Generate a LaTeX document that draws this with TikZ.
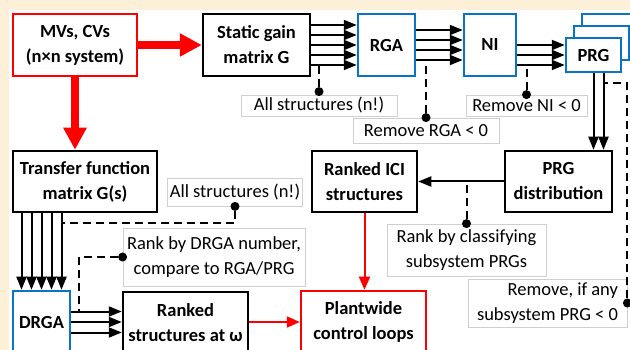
\documentclass[tikz,border=0pt]{standalone}
\usepackage{fontspec}
\setmainfont{Carlito}
\usetikzlibrary{arrows.meta, calc}
\definecolor{cream}{HTML}{FCF1D8}
\definecolor{boxblue}{HTML}{0A74C4}
\definecolor{notegray}{HTML}{CFCFCF}

\begin{document}
\begin{tikzpicture}[x=1pt, y=-1pt,
    every node/.style={font=\fontsize{18.5}{25}\selectfont},
    box/.style={draw, line width=2.5pt, fill=white, align=center, inner sep=2pt,
                font=\fontsize{18.5}{25}\selectfont\bfseries},
    bluebox/.style={box, draw=boxblue},
    redbox/.style={box, draw=red},
    note/.style={draw=notegray, line width=0.8pt, fill=white, align=center, inner sep=2pt},
    arr/.style={-{Triangle[length=13pt,width=10pt]}, line width=2pt},
    redarr/.style={-{Triangle[length=13pt,width=11pt]}, line width=2pt, red},
    bigarr/.style={-{Triangle[length=22pt,width=22pt]}, line width=8.5pt, red},
    dsh/.style={dash pattern=on 8pt off 5pt, line width=2pt},
    blob/.style={circle, fill, inner sep=0pt, minimum size=9pt}]
    \useasboundingbox (0,0) rectangle (630,350);
    \fill[cream] (0,0) rectangle (630,350);
    \fill[white] (9,10) rectangle (630,350);
    \clip (0,0) rectangle (630,350);

    % top row
    \node[redbox, minimum width=124pt, minimum height=62pt] (mv) at (75,45) {MVs, CVs\\(n×n system)};
    \node[box, minimum width=107pt, minimum height=62pt] (static) at (256.5,45) {Static gain\\matrix G};
    \node[bluebox, minimum width=57pt, minimum height=62pt] (rga) at (386.5,45) {RGA};
    \node[bluebox, minimum width=52pt, minimum height=62pt] (ni) at (490,45) {NI};
    \node[bluebox, minimum width=55pt, minimum height=34pt] (prgc) at (609.5,31) {};
    \node[bluebox, minimum width=55pt, minimum height=34pt] (prgb) at (601.5,43) {};
    \node[bluebox, minimum width=55pt, minimum height=34pt] (prg) at (593.5,55) {PRG};

    % middle row
    \node[box, minimum width=144pt, minimum height=61pt] (tf) at (85,181.5) {Transfer function\\matrix G(s)};
    \node[box, minimum width=105pt, minimum height=61pt] (ici) at (364.5,181.5) {Ranked ICI\\structures};
    \node[box, minimum width=107pt, minimum height=61pt] (dist) at (558.5,181.5) {PRG\\distribution};

    % bottom row
    \node[bluebox, minimum width=57pt, minimum height=62pt] (drga) at (41.5,322) {DRGA};
    \node[box, minimum width=125pt, minimum height=62pt] (rank) at (185.5,323) {Ranked\\structures at ω};
    \node[redbox, minimum width=125pt, minimum height=62pt] (plant) at (363.5,322) {Plantwide\\control loops};

    % notes
    \node[note, minimum width=156pt, minimum height=21pt] (n1) at (319,105.5) {All structures (n!)};
    \node[note, minimum width=146pt, minimum height=25pt] (n2) at (426,130.5) {Remove RGA < 0};
    \node[note, minimum width=121pt, minimum height=21pt] (n3) at (526.5,105.5) {Remove NI < 0};
    \node[note, minimum width=134pt, minimum height=28pt] (n4) at (235,192) {All structures (n!)};
    \node[note, minimum width=182pt, minimum height=58pt] (n5) at (214,257) {Rank by DRGA number,\\compare to RGA/PRG};
    \node[note, minimum width=159pt, minimum height=52pt] (n6) at (466.5,250) {Rank by classifying\\subsystem PRGs};
    \node[note, align=right, minimum width=159pt, minimum height=48pt] (n7) at (547.5,303) {Remove, if any\\subsystem PRG < 0};

    % parallel arrows
    \foreach \d in {-20,-10,0,10,20}
      \draw[arr] ($(static.east)+(0,\d)$) -- ($(rga.west)+(0,\d)$);
    \foreach \d in {-15,-5,5,15}
      \draw[arr] ($(rga.east)+(0,\d)$) -- ($(ni.west)+(0,\d)$);
    \foreach \d in {-10,0,10} {
      \path ($(prg.west)+(0,\d)$) coordinate (t);
      \draw[arr] (ni.east |- t) -- (t);
    }
    \foreach \d in {0,10} {
      \path ($(prg.south)+(\d,0)$) coordinate (t);
      \draw[arr] (t) -- (t |- dist.north);
    }
    \foreach \d in {-20,-10,0,10,20} {
      \path ($(drga.north)+(\d,0)$) coordinate (t);
      \draw[arr] (t |- tf.south) -- (t);
    }
    \foreach \d in {-10.5,0,10.5} {
      \path ($(drga.east)+(0,\d)$) coordinate (t);
      \draw[arr] (t) -- (rank.west |- t);
    }
    \draw[arr] (dist) -- (ici);

    % red arrows
    \draw[bigarr] (mv) -- (static);
    \draw[bigarr] (mv.south) -- (mv.south |- tf.north);
    \draw[redarr] (ici.south) -- (ici.south |- plant.north);
    \draw[redarr] (rank.east |- plant.west) -- (plant.west);

    % dashed links to notes
    \coordinate (sg) at ($(static.east)+(0,20)$);
    \coordinate (rn) at ($(rga.east)+(0,15)$);
    \coordinate (np) at ($(prg.west)+(0,10)$);
    \coordinate (pr) at ($(prg.south)+(10,10)$);
    \coordinate (tq) at ($(drga.north |- tf.south)+(20,10)$);
    \coordinate (dq) at ($(drga.east)+(8,-10.5)$);
    \node[blob] (d1) at ($(n1.north)+(0,-3)$) {};
    \node[blob] (d2) at (n2.north) {};
    \node[blob] (d3) at (n3.north) {};
    \node[blob] (d4) at (n4.south) {};
    \node[blob] (d5) at (n5.west) {};
    \node[blob] (d6) at (n6.north) {};
    \node[blob] (d7) at (n7.east) {};
    \draw[dsh] (d1) -- (d1 |- sg);
    \draw[dsh] (d2) -- (d2 |- rn);
    \draw[dsh] (d3) -- (d3 |- np);
    \draw[dsh] (d7) -- (d7 |- pr) -- (pr);
    \draw[dsh] (d6) -- (d6 |- dist.west);
    \draw[dsh] (d4) -- (d4 |- tq) -- (tq);
    \draw[dsh] (d5) -- (d5 -| dq) -- (dq);
\end{tikzpicture}
\end{document}
